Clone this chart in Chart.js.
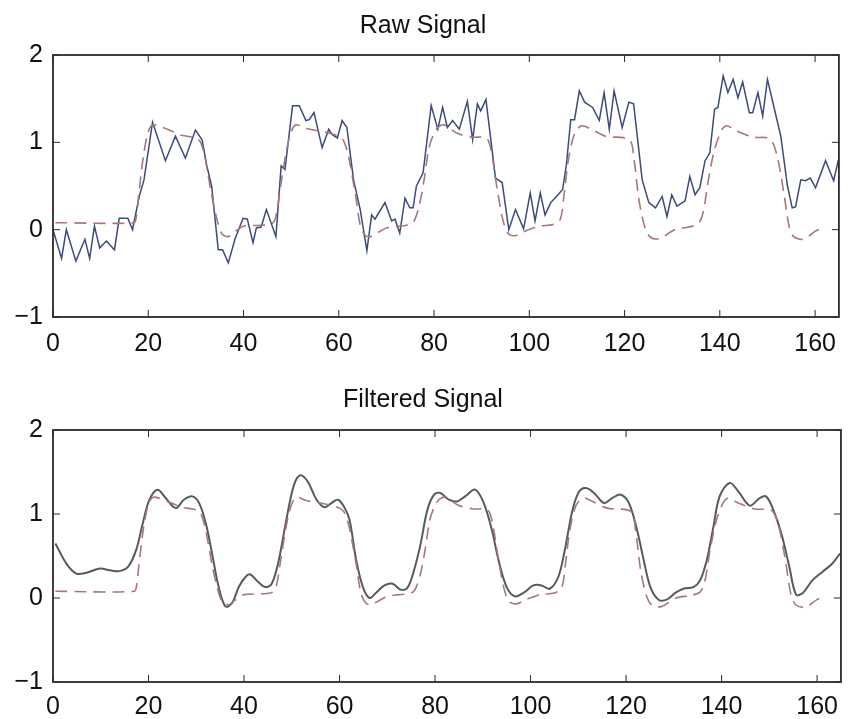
<!DOCTYPE html>
<html>
<head>
<meta charset="utf-8">
<script src="https://cdn.jsdelivr.net/npm/chart.js@4.4.1/dist/chart.umd.min.js"></script>
<style>
  body { margin: 0; background: #fff; }
  .panel { position: absolute; left: 0; width: 848px; }
  #topPanel { top: 0; height: 360px; }
  #bottomPanel { top: 360px; height: 359px; }
</style>
</head>
<body>
<div class="panel" id="topPanel"><canvas id="rawChart"></canvas></div>
<div class="panel" id="bottomPanel"><canvas id="filteredChart"></canvas></div>
<script>
// valores
const rawT = [0, 1.8, 2.8, 4.8, 6.7, 7.7, 8.7, 9.8, 11.2, 12.9, 13.9, 15.7, 16.7, 18.1, 19.1, 20.9, 23.6, 25.7, 27.8, 29.9,
  31.3, 32.3, 33.3, 34.7, 35.6, 36.8, 38.2, 39.9, 40.8, 42, 42.7, 43.7, 44.8, 46.8, 47.9, 48.7, 50.3, 51.7, 53.1, 53.8,
  54.8, 56.5, 57.9, 58.6, 59.7, 60.7, 61.7, 63.1, 64.5, 65.9, 66.9, 67.6, 69.7, 71.1, 71.8, 72.8, 73.9, 74.9, 75.6, 76.3,
  77.7, 79.4, 80.8, 81.8, 82.8, 83.9, 85.3, 87, 88.1, 89.1, 89.8, 90.9, 92.9, 94.3, 95.7, 97.1, 98.8, 100.2, 101.2, 102.3,
  103.3, 104.5, 105.7, 107, 107.8, 108.7, 109.5, 110.5, 111.6, 113.3, 114.7, 115.7, 116.8, 117.8, 119.5, 120.9, 121.9, 123.7, 125.1, 126.5,
  127.9, 128.9, 129.9, 131, 132.7, 133.7, 134.8, 135.8, 136.9, 137.9, 138.9, 139.6, 140.7, 141.7, 142.8, 143.8, 144.8, 146.2, 146.9, 148,
  149, 150, 152.8, 154.2, 155.2, 155.9, 157, 158, 159, 160.1, 162.2, 163.9, 164.9];
const rawV = [0, -0.33, 0, -0.36, -0.11, -0.33, 0.04, -0.21, -0.13, -0.23, 0.13, 0.13, 0, 0.38, 0.57, 1.23, 0.79, 1.07, 0.82, 1.14,
  1.03, 0.73, 0.5, -0.23, -0.23, -0.38, -0.11, 0.13, 0.12, -0.15, 0.02, 0.03, 0.23, -0.08, 0.73, 0.69, 1.42, 1.42, 1.25, 1.26,
  1.34, 0.94, 1.15, 1.09, 1.05, 1.25, 1.17, 0.57, 0.23, -0.24, 0.17, 0.12, 0.31, 0.1, 0.12, -0.04, 0.36, 0.25, 0.25, 0.5,
  0.65, 1.42, 1.15, 1.4, 1.17, 1.25, 1.15, 1.47, 1.03, 1.44, 1.36, 1.49, 0.59, 0.54, 0, 0.23, 0.01, 0.42, 0.1, 0.42,
  0.17, 0.31, 0.38, 0.46, 0.75, 1.26, 1.26, 1.59, 1.46, 1.4, 1.25, 1.57, 1.15, 1.59, 1.17, 1.46, 1.44, 0.57, 0.31, 0.25,
  0.38, 0.15, 0.4, 0.27, 0.33, 0.61, 0.4, 0.48, 0.79, 0.88, 1.38, 1.4, 1.76, 1.57, 1.72, 1.51, 1.69, 1.34, 1.34, 1.57,
  1.3, 1.72, 1.07, 0.5, 0.25, 0.26, 0.57, 0.56, 0.59, 0.48, 0.79, 0.56, 0.8];

const filtT = [0.5, 2.8, 4.9, 7, 9.8, 11.9, 13.9, 15.7, 17.4, 18.8, 20.2, 21.9, 23.6, 25.7, 27.4, 29.2, 30.6, 32, 33.3, 34.7,
  36.1, 37.5, 38.9, 40.3, 41.3, 43, 44.4, 45.8, 47.2, 48.6, 50, 51, 52, 53.4, 55.2, 56.9, 58.3, 59.7, 61.1, 62.1,
  63.5, 64.9, 66.3, 67.6, 69.4, 71.1, 72.8, 74.2, 75.6, 77, 78.4, 79.8, 81.1, 82.9, 84.6, 86.3, 88.4, 90.2, 91.9, 93.3,
  95, 96.7, 98.5, 100.6, 102.3, 104, 105.8, 107.1, 108.8, 110.2, 111.6, 113.3, 115.4, 117.1, 118.9, 120.6, 122.3, 123.7, 125.1, 126.8,
  128.5, 130.3, 132, 134.1, 135.5, 136.9, 138.3, 139.6, 141.7, 143.5, 145.9, 148, 149.3, 150.7, 152.5, 154.2, 155.6, 157, 159, 161.1,
  163.2, 164.8];
const filtV = [0.65, 0.41, 0.29, 0.3, 0.35, 0.33, 0.32, 0.37, 0.57, 0.89, 1.17, 1.29, 1.19, 1.07, 1.17, 1.21, 1.13, 0.89, 0.53, 0.13,
  -0.1, -0.06, 0.13, 0.25, 0.28, 0.19, 0.13, 0.17, 0.43, 0.85, 1.25, 1.42, 1.46, 1.38, 1.17, 1.08, 1.13, 1.17, 1.07, 0.93,
  0.45, 0.13, 0, 0.06, 0.15, 0.17, 0.1, 0.12, 0.33, 0.65, 1.05, 1.23, 1.25, 1.17, 1.15, 1.21, 1.29, 1.13, 0.81, 0.45,
  0.13, 0.02, 0.06, 0.15, 0.15, 0.11, 0.25, 0.55, 1.05, 1.27, 1.31, 1.25, 1.13, 1.19, 1.23, 1.13, 0.81, 0.45, 0.13, -0.02,
  -0.02, 0.06, 0.11, 0.13, 0.21, 0.45, 0.85, 1.21, 1.37, 1.27, 1.1, 1.19, 1.21, 1.07, 0.77, 0.37, 0.04, 0.06, 0.21, 0.31,
  0.41, 0.53];

// senal de referencia (linea discontinua), igual en las dos graficas
const refT = [0.5, 17, 17.5, 18, 19, 20, 21, 24, 27, 30, 31, 32, 33.3, 34.5, 35.5, 36.8, 38, 40, 44, 46,
  46.8, 47.8, 49, 50, 51, 53, 57, 60, 61, 62, 63.5, 64.5, 65.5, 66.5, 68, 70, 75, 76, 77, 78,
  79, 80.5, 82, 85, 88, 91, 92, 93.3, 94.5, 95.5, 97, 99, 102, 105, 106.5, 107.3, 108.2, 109.5, 111, 113,
  116, 121, 122, 123, 124.3, 125.5, 127.5, 130.5, 133.5, 135.5, 136.5, 137.6, 138.9, 140.5, 141.5, 143.5, 147, 150.5, 152, 153.5,
  154.5, 155.5, 157.5, 160, 161.5];
const refV = [0.08, 0.08, 0.15, 0.4, 0.85, 1.12, 1.2, 1.15, 1.08, 1.05, 1.0, 0.8, 0.4, 0.1, -0.05, -0.08, -0.03, 0.04, 0.05, 0.07,
  0.15, 0.5, 0.9, 1.12, 1.2, 1.16, 1.12, 1.07, 1.02, 0.85, 0.4, 0.05, -0.06, -0.08, -0.04, 0.02, 0.06, 0.12, 0.3, 0.6,
  0.95, 1.15, 1.2, 1.1, 1.06, 1.05, 0.9, 0.45, 0.1, -0.04, -0.07, -0.02, 0.04, 0.06, 0.12, 0.4, 0.8, 1.1, 1.19, 1.15,
  1.07, 1.03, 0.8, 0.35, 0.02, -0.09, -0.1, 0.0, 0.03, 0.07, 0.2, 0.57, 0.92, 1.15, 1.19, 1.13, 1.06, 1.04, 0.85, 0.4,
  0.05, -0.08, -0.11, -0.02, 0.02];

const xMin = 0, xMax = 165, xStep = 20;
const yMin = -1, yMax = 2, yStep = 1;

const FONT = "'Liberation Sans', Arial, sans-serif";

function toPoints(ts, vs) {
    return ts.map((t, i) => ({ x: t, y: vs[i] }));
}

// caja y marcas hacia dentro, estilo matlab
const boxPlugin = {
    id: 'boxPlugin',
    afterDraw(chart) {
        const { ctx, chartArea: a, scales } = chart;
        const len = 7;
        ctx.save();
        ctx.strokeStyle = '#2a2a2a';
        ctx.lineWidth = 1.8;
        ctx.strokeRect(a.left, a.top, a.right - a.left, a.bottom - a.top);
        ctx.lineWidth = 1;
        ctx.beginPath();
        scales.x.ticks.forEach(tk => {
            const px = scales.x.getPixelForValue(tk.value);
            ctx.moveTo(px, a.bottom); ctx.lineTo(px, a.bottom - len);
            ctx.moveTo(px, a.top); ctx.lineTo(px, a.top + len);
        });
        scales.y.ticks.forEach(tk => {
            const py = scales.y.getPixelForValue(tk.value);
            ctx.moveTo(a.left, py); ctx.lineTo(a.left + len, py);
            ctx.moveTo(a.right, py); ctx.lineTo(a.right - len, py);
        });
        ctx.stroke();
        ctx.restore();
    }
};

function crearGrafica(canvasId, titulo, datasets, cfg) {
    const canvas = document.getElementById(canvasId);
    return new Chart(canvas, {
        type: 'scatter',
        data: { datasets: datasets },
        options: {
            responsive: true,
            maintainAspectRatio: false,
            animation: false,
            layout: { padding: { left: 0, right: 2, top: 0, bottom: 0 } },
            plugins: {
                legend: { display: false },
                tooltip: { enabled: false },
                title: {
                    display: true,
                    text: titulo,
                    color: '#111',
                    font: { family: FONT, size: 25, weight: 'normal', lineHeight: 1.2 },
                    padding: { top: cfg.titleTop, bottom: cfg.titleBottom }
                }
            },
            scales: {
                x: {
                    type: 'linear',
                    min: xMin,
                    max: xMax,
                    grid: { display: false, drawTicks: false },
                    border: { display: false },
                    ticks: {
                        stepSize: xStep,
                        includeBounds: false,
                        maxRotation: 0,
                        color: '#111',
                        padding: cfg.xPad,
                        font: { family: FONT, size: 25 }
                    },
                    afterFit(scale) { scale.height = cfg.xHeight; }
                },
                y: {
                    min: yMin,
                    max: yMax,
                    grid: { display: false, drawTicks: false },
                    border: { display: false },
                    ticks: {
                        stepSize: yStep,
                        color: '#111',
                        padding: 10,
                        font: { family: FONT, size: 25 },
                        callback: v => (v < 0 ? '\u2212' + Math.abs(v) : String(v))
                    },
                    afterFit(scale) { scale.width = 53; }
                }
            }
        },
        plugins: [boxPlugin]
    });
}

const refStyle = {
    borderColor: '#a8767c',
    borderWidth: 1.6,
    borderDash: [12, 7],
    pointRadius: 0,
    showLine: true,
    fill: false,
    tension: 0.3
};

document.addEventListener('DOMContentLoaded', function() {
    crearGrafica('rawChart', 'Raw Signal', [
        Object.assign({ data: toPoints(refT, refV) }, refStyle),
        {
            data: toPoints(rawT, rawV),
            borderColor: '#3d4a7c',
            borderWidth: 1.5,
            pointRadius: 0,
            showLine: true,
            tension: 0
        }
    ], { titleTop: 11, titleBottom: 14, xPad: 12, xHeight: 43 });

    crearGrafica('filteredChart', 'Filtered Signal', [
        Object.assign({ data: toPoints(refT, refV) }, refStyle),
        {
            data: toPoints(filtT, filtV),
            borderColor: '#555a60',
            borderWidth: 2,
            pointRadius: 0,
            showLine: true,
            tension: 0.35
        }
    ], { titleTop: 25, titleBottom: 15, xPad: 10, xHeight: 37 });
});
</script>
</body>
</html>
